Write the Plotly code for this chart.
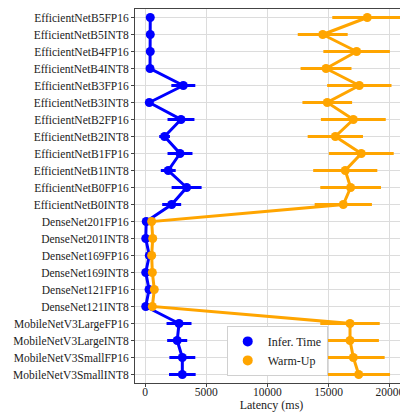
import plotly.graph_objects as go

models = [
    "EfficientNetB5FP16", "EfficientNetB5INT8", "EfficientNetB4FP16", "EfficientNetB4INT8",
    "EfficientNetB3FP16", "EfficientNetB3INT8", "EfficientNetB2FP16", "EfficientNetB2INT8",
    "EfficientNetB1FP16", "EfficientNetB1INT8", "EfficientNetB0FP16", "EfficientNetB0INT8",
    "DenseNet201FP16", "DenseNet201INT8", "DenseNet169FP16", "DenseNet169INT8",
    "DenseNet121FP16", "DenseNet121INT8",
    "MobileNetV3LargeFP16", "MobileNetV3LargeINT8", "MobileNetV3SmallFP16", "MobileNetV3SmallINT8",
]

infer_time = [430, 430, 430, 410, 3130, 350, 2940, 1600, 2860, 1900, 3400, 2180,
              100, 60, 350, 60, 330, 60,
              2780, 2630, 3050, 3050]
infer_err = [100, 100, 100, 100, 980, 100, 1100, 440, 1020, 610, 1225, 775,
             150, 150, 150, 150, 150, 150,
             1020, 820, 1060, 1090]

warm_up = [18160, 14520, 17290, 14790, 17510, 14890, 17020, 15550, 17670, 16360, 16800, 16200,
           545, 630, 545, 600, 760, 600,
           16750, 16750, 17020, 17460]
warm_err = [2860, 2040, 2720, 2080, 2630, 2030, 2650, 2260, 2650, 2620, 2480, 2340,
            100, 100, 100, 100, 100, 100,
            2430, 2360, 2560, 2560]

x_ticks = [0, 5000, 10000, 15000, 20000]

BLUE = "#0000FF"
ORANGE = "#FFA500"
FONT = "Liberation Serif, Times New Roman, serif"

fig = go.Figure()
for vals, errs, col in [(infer_time, infer_err, BLUE), (warm_up, warm_err, ORANGE)]:
    fig.add_trace(go.Scatter(
        x=vals, y=models, mode="lines+markers", showlegend=False,
        line=dict(color=col, width=3),
        marker=dict(color=col, size=9),
        error_x=dict(type="data", array=errs, color=col, thickness=3, width=0),
    ))
for col, name in [(BLUE, "Infer. Time"), (ORANGE, "Warm-Up")]:
    fig.add_trace(go.Scatter(x=[None], y=[None], mode="markers", name=name,
                             marker=dict(color=col, size=10)))

fig.update_layout(
    width=400, height=408,
    margin=dict(l=127, r=0, t=1, b=33),
    paper_bgcolor="white", plot_bgcolor="white",
    font=dict(family=FONT, size=11.5, color="#222"),
    legend=dict(x=0.336, y=0.019, xanchor="left", yanchor="bottom",
                bgcolor="white", bordercolor="#d0d0d0", borderwidth=1,
                font=dict(family=FONT, size=12, color="#222"),
                tracegroupgap=0),
    xaxis=dict(
        range=[-817, 21487], tickvals=x_ticks, ticktext=[str(v) for v in x_ticks],
        showgrid=True, gridcolor="#dcdcdc", gridwidth=1, zeroline=False,
        showline=True, linecolor="#444", linewidth=1, mirror=True,
        ticks="outside", ticklen=3, tickcolor="#444", ticklabelstandoff=-5,
        title=dict(text="Latency (ms)", font=dict(family=FONT, size=12, color="#222"), standoff=2),
    ),
    yaxis=dict(
        categoryorder="array", categoryarray=models, range=[21.5, -0.5],
        showgrid=True, gridcolor="#dcdcdc", gridwidth=1, zeroline=False,
        showline=True, linecolor="#444", linewidth=1,
        ticks="outside", ticklen=3, tickcolor="#444",
    ),
)

fig.write_html("out.html")
